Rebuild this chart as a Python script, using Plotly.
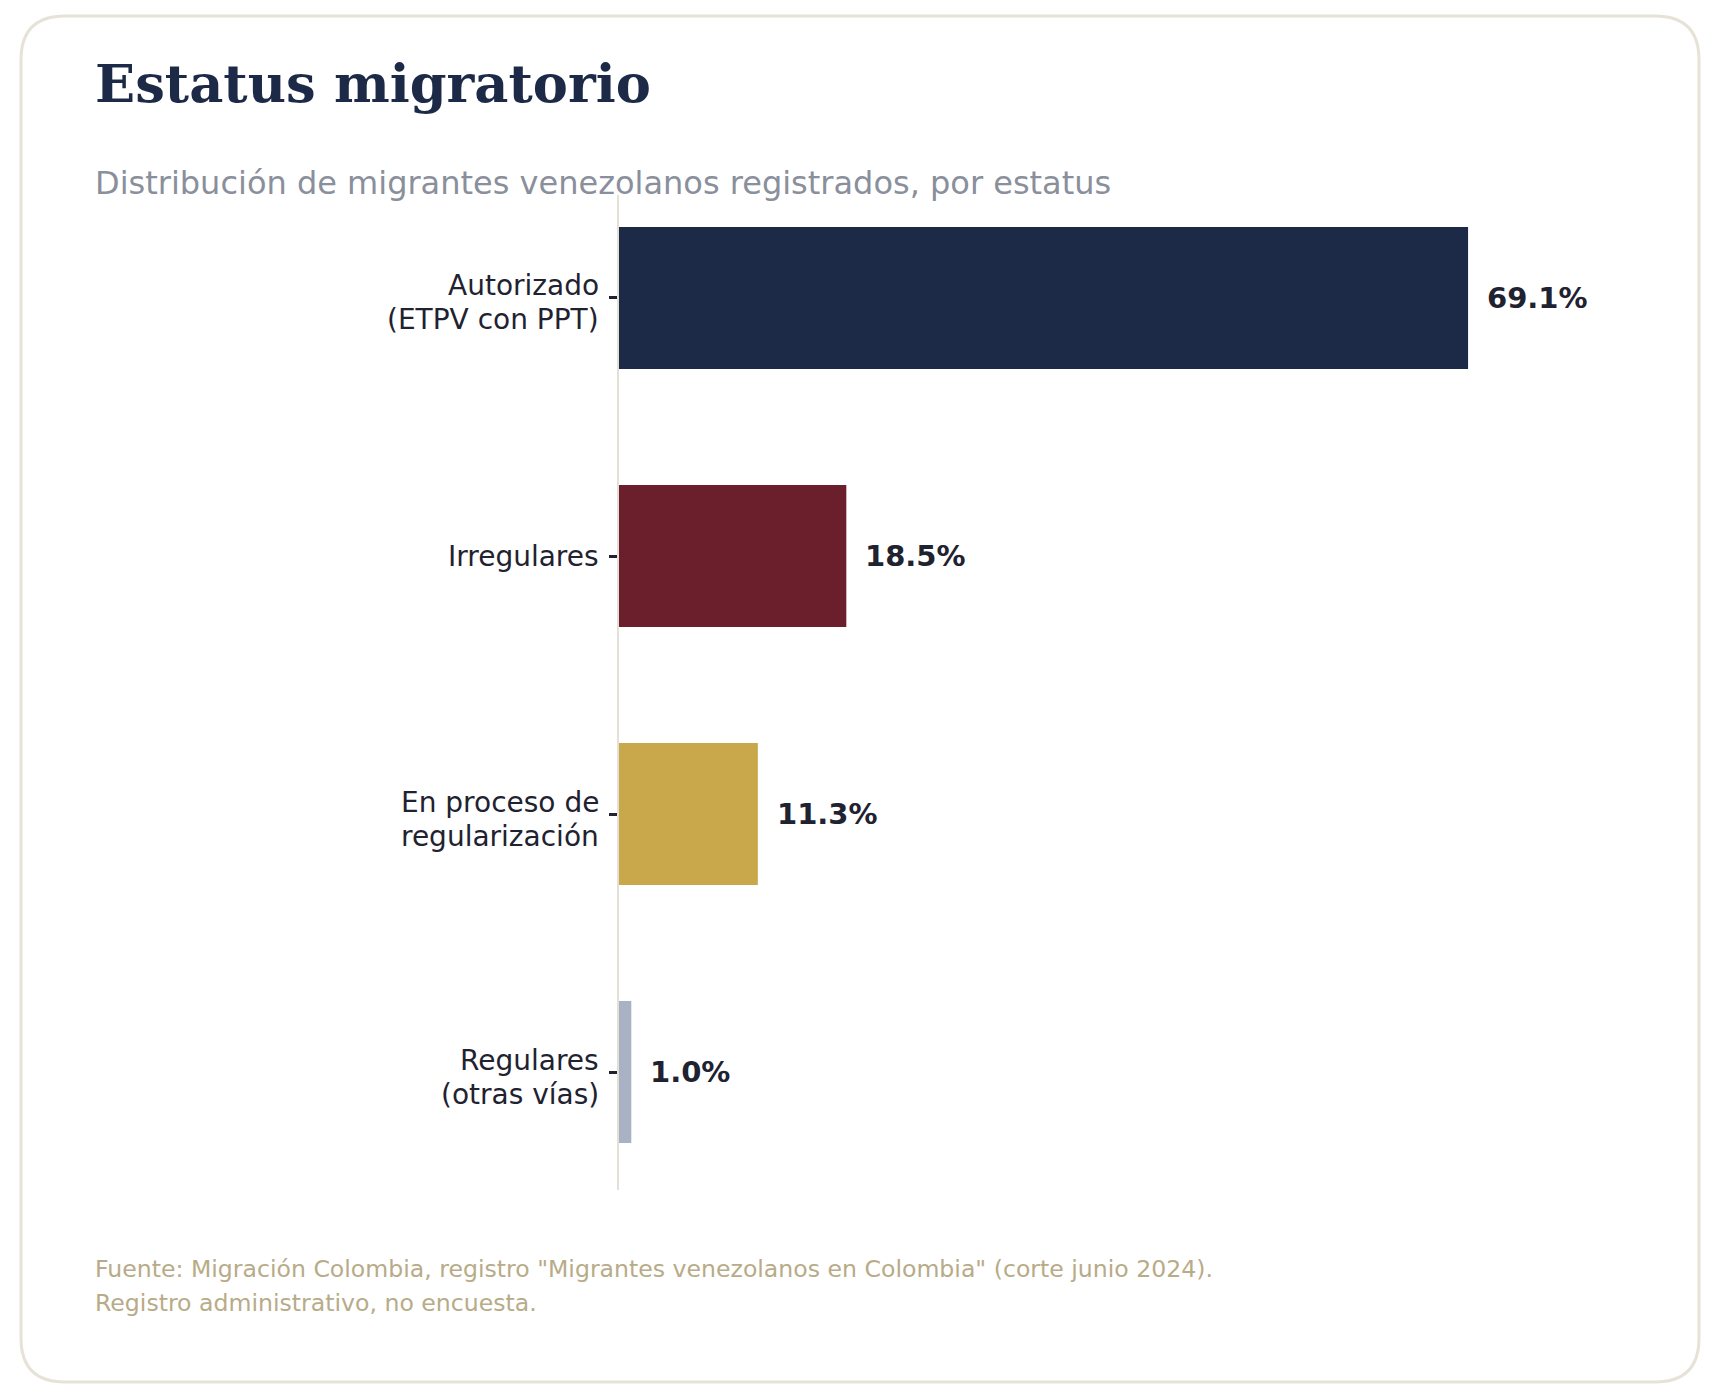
import plotly.graph_objects as go

# data
categorias = ['Autorizado\n(ETPV con PPT)', 'Irregulares', 'En proceso de\nregularización', 'Regulares\n(otras vías)']
porcentajes = [69.1, 18.5, 11.3, 1.0]
etiquetas = ['69.1%', '18.5%', '11.3%', '1.0%']

colores = ['#1c2a47', '#6b1f2c', '#c8a84a', '#a8b2c4']

W, H = 1720, 1400
INK = '#1f2230'
OFF = 8  # page body margin


def px_x(v):
    return (v - OFF) / W


def px_y(v):
    return 1 - (v - OFF) / H


fig = go.Figure()
fig.add_trace(go.Bar(
    x=porcentajes, y=categorias, orientation='h',
    marker=dict(color=colores, line=dict(width=0)),
    hoverinfo='skip',
))

for cat, val, lab in zip(categorias, porcentajes, etiquetas):
    fig.add_annotation(x=val, y=cat, xref='x', yref='y', text='<b>' + lab + '</b>',
                       showarrow=False, xanchor='left', yanchor='middle', xshift=17,
                       font=dict(family='DejaVu Sans', size=29, color=INK))

# category labels, line by line (tighter spacing than plotly's <br>)
for cat in categorias:
    lineas = cat.split('\n')
    shifts = [0] if len(lineas) == 1 else [12, -22]
    for linea, dy in zip(lineas, shifts):
        fig.add_annotation(x=px_x(601), y=cat, xref='paper', yref='y', text=linea,
                           showarrow=False, xanchor='right', yanchor='middle', yshift=dy,
                           font=dict(family='DejaVu Sans', size=28, color=INK))

# card with rounded corners
x0, x1 = px_x(21), px_x(1699)
y0, y1 = px_y(1382), px_y(16)
rx, ry = 44 / W, 44 / H
path = (f'M {x0 + rx},{y1} L {x1 - rx},{y1} Q {x1},{y1} {x1},{y1 - ry} '
        f'L {x1},{y0 + ry} Q {x1},{y0} {x1 - rx},{y0} '
        f'L {x0 + rx},{y0} Q {x0},{y0} {x0},{y0 + ry} '
        f'L {x0},{y1 - ry} Q {x0},{y1} {x0 + rx},{y1} Z')
fig.add_shape(type='path', path=path, xref='paper', yref='paper',
              line=dict(color='#e6e2d8', width=3), fillcolor='rgba(0,0,0,0)', layer='below')

# title, subtitle, source
fig.add_annotation(x=px_x(93), y=px_y(84), xref='paper', yref='paper', text='<b>Estatus migratorio</b>',
                   showarrow=False, xanchor='left', yanchor='middle',
                   font=dict(family='DejaVu Serif', size=52.7, color='#1c2a47'))
fig.add_annotation(x=px_x(93), y=px_y(183), xref='paper', yref='paper',
                   text='Distribución de migrantes venezolanos registrados, por estatus',
                   showarrow=False, xanchor='left', yanchor='middle',
                   font=dict(family='DejaVu Sans', size=32, color='#8a8f9c'))
fig.add_annotation(x=px_x(93), y=px_y(1269), xref='paper', yref='paper',
                   text='Fuente: Migración Colombia, registro "Migrantes venezolanos en Colombia" (corte junio 2024).',
                   showarrow=False, xanchor='left', yanchor='middle',
                   font=dict(family='DejaVu Sans', size=23.6, color='#b8ab88'))
fig.add_annotation(x=px_x(93), y=px_y(1303), xref='paper', yref='paper',
                   text='Registro administrativo, no encuesta.',
                   showarrow=False, xanchor='left', yanchor='middle',
                   font=dict(family='DejaVu Sans', size=23.6, color='#b8ab88'))

fig.update_layout(
    width=W, height=H,
    margin=dict(l=0, r=0, t=0, b=0),
    paper_bgcolor='white', plot_bgcolor='white',
    bargap=0.45,
    showlegend=False,
    xaxis=dict(domain=[px_x(619), px_x(1602)], range=[0, 80], showgrid=False, zeroline=False,
               showticklabels=False, ticks='', showline=False),
    yaxis=dict(domain=[px_y(1190), px_y(195)], type='category', categoryorder='array',
               categoryarray=categorias, range=[3.457, -0.399],
               showline=True, linecolor='#e5e0d5', linewidth=2,
               ticks='outside', ticklen=8, tickwidth=2.5, tickcolor=INK,
               showticklabels=False, showgrid=False, zeroline=False),
)

fig.write_html('out.html')
